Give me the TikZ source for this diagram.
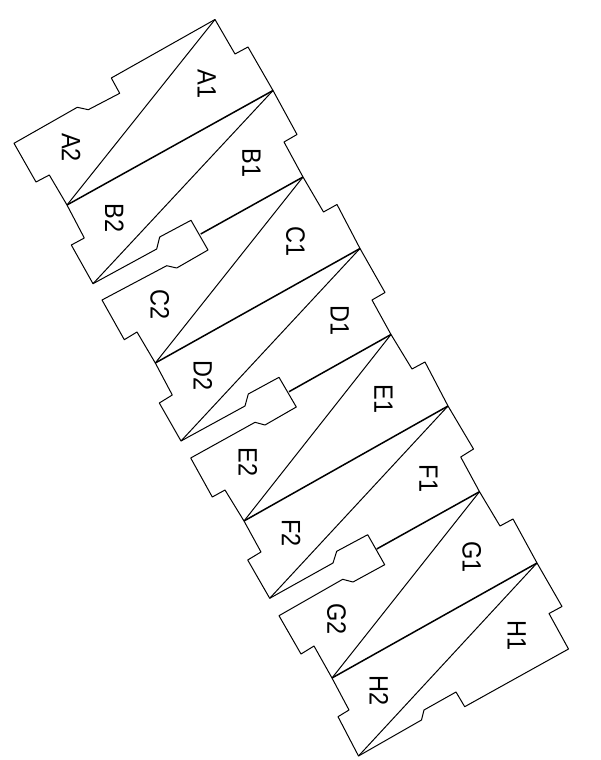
\documentclass[tikz,border=0pt]{standalone}
\usepackage{fontspec}
\setmainfont{Liberation Sans}
\tikzset{
  outline/.style={draw=black,line width=1pt,line join=round},
  thin diag/.style={draw=black,line width=1pt},
  heavy diag/.style={draw=black,line width=1.5pt},
  lab/.style={rotate=-90,yscale=1.13,inner sep=0pt,font=\fontsize{23.5}{24}\selectfont}
}
\begin{document}
\begin{tikzpicture}[x=1pt,y=-1pt]
\useasboundingbox (0,0) rectangle (601,760);
% fold points
\coordinate (a0) at (215,19.5);
\coordinate (r1) at (273,90.5);
\coordinate (r2) at (303,177);
\coordinate (r3) at (360,248.5);
\coordinate (r4) at (391,334.5);
\coordinate (r5) at (448,406);
\coordinate (r6) at (479.5,491.7);
\coordinate (r7) at (537,563);
\coordinate (l1) at (67,205);
\coordinate (l2) at (93,283.7);
\coordinate (l3) at (155.3,363);
\coordinate (l4) at (181,441);
\coordinate (l5) at (244,521);
\coordinate (l6) at (269.7,598.3);
\coordinate (l7) at (332,678);
\coordinate (l8) at (358.5,756);
\coordinate (t1) at (200.7,234);
\coordinate (t2) at (289,391.7);
\coordinate (t3) at (376.7,549);
% outline
\draw[outline] (a0) -- (235,54) -- (248,47) -- (r1) -- (297,134.5) -- (284,142) -- (r2)
  -- (323.5,212) -- (337,204.5) -- (r3) -- (385,292.5) -- (372,300) -- (r4)
  -- (412,369) -- (425,362) -- (r5) -- (473.5,449) -- (460.7,457) -- (r6)
  -- (500,526) -- (513,519) -- (r7) -- (562,606.5) -- (549,613.5) -- (568.5,649)
  -- (464.7,706.7) -- (456,692) -- (424,710) -- (421.5,720) -- (l8)
  -- (338,716.7) -- (349,710) -- (l7) -- (314,646) -- (301,654) -- (279,615.7)
  -- (342.7,579.3) -- (353,582) -- (384.7,564.7) -- (367.7,534.7) -- (336.7,551.3) -- (333,563) -- (l6)
  -- (247.7,560) -- (261,552) -- (l5) -- (225,490) -- (212.3,497) -- (190.7,458)
  -- (255,422.3) -- (265,425) -- (296.3,407) -- (279,377.3) -- (248.3,394) -- (245,406) -- (l4)
  -- (159.3,403) -- (172.3,395) -- (l3) -- (137,332) -- (124.3,339.7) -- (102,300)
  -- (166.7,265.7) -- (176.7,268) -- (208,250) -- (191,220.3) -- (159.7,237) -- (156.7,249) -- (l2)
  -- (71.3,245) -- (84.3,238) -- (l1) -- (49.3,175) -- (36,182) -- (14,143.3)
  -- (77.3,107.3) -- (88.3,109.7) -- (119.7,93.3) -- (111.3,78) -- cycle;
% thin diagonals
\draw[thin diag] (a0) -- (l1);
\draw[thin diag] (r1) -- (l2);
\draw[thin diag] (r2) -- (l3);
\draw[thin diag] (r3) -- (l4);
\draw[thin diag] (r4) -- (l5);
\draw[thin diag] (r5) -- (l6);
\draw[thin diag] (r6) -- (l7);
\draw[thin diag] (r7) -- (l8);
% heavy folds
\draw[heavy diag] (r1) -- (l1);
\draw[heavy diag] (r2) -- (t1);
\draw[heavy diag] (r3) -- (l3);
\draw[heavy diag] (r4) -- (t2);
\draw[heavy diag] (r5) -- (l5);
\draw[heavy diag] (r6) -- (t3);
\draw[heavy diag] (r7) -- (l7);
% labels
\node[lab] (A1) at (206.8,84) {A1};
\node[lab] (A2) at (71.2,147.5) {A2};
\node[lab] (B1) at (251.5,163.3) {B1};
\node[lab] (B2) at (114.5,218.3) {B2};
\node[lab] (C1) at (295.5,241.7) {C1};
\node[lab] (C2) at (159.8,305) {C2};
\node[lab] (D1) at (339.8,321) {D1};
\node[lab] (D2) at (202.8,375.7) {D2};
\node[lab] (E1) at (383.5,399) {E1};
\node[lab] (E2) at (248,461.7) {E2};
\node[lab] (F1) at (428.5,478.7) {F1};
\node[lab] (F2) at (291.2,533) {F2};
\node[lab] (G1) at (471.8,556.7) {G1};
\node[lab] (G2) at (336.5,619) {G2};
\node[lab] (H1) at (516.8,635.8) {H1};
\node[lab] (H2) at (379,690.7) {H2};
\end{tikzpicture}
\end{document}
